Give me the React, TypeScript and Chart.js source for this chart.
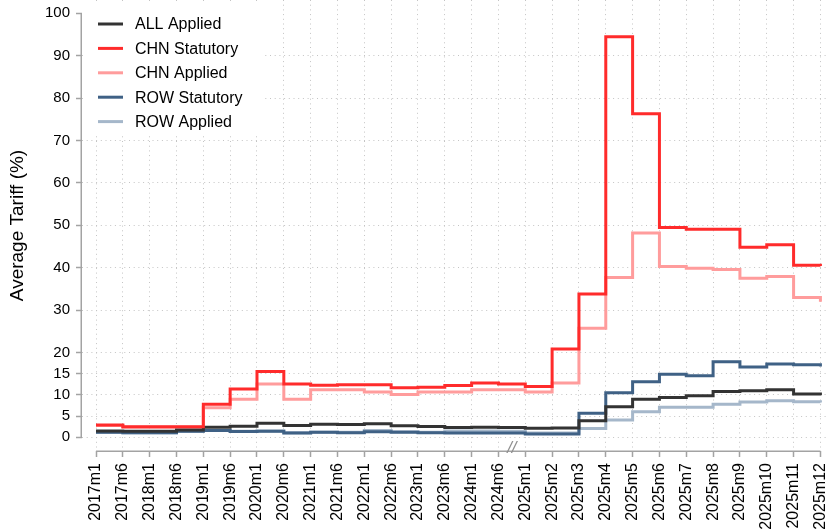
import { useEffect, useRef } from 'react';
import { Chart, registerables } from 'chart.js';

Chart.register(...registerables);

const xLabels = [
  '2017m1', '2017m6', '2018m1', '2018m6', '2019m1', '2019m6', '2020m1', '2020m6',
  '2021m1', '2021m6', '2022m1', '2022m6', '2023m1', '2023m6', '2024m1', '2024m6',
  '2025m1', '2025m2', '2025m3', '2025m4', '2025m5', '2025m6', '2025m7', '2025m8',
  '2025m9', '2025m10', '2025m11', '2025m12',
];

const yTickValues = [0, 5, 10, 15, 20, 30, 40, 50, 60, 70, 80, 90, 100];

const allApplied = [
  1.5, 1.4, 1.4, 1.7, 2.4, 2.6, 3.3, 2.8, 3.1, 3.0, 3.2, 2.7, 2.55, 2.3, 2.4, 2.3,
  2.15, 2.2, 3.9, 7.2, 9.0, 9.4, 9.8, 10.8, 11.0, 11.2, 10.2, 9.9,
];
const chnStatutory = [
  2.9, 2.5, 2.5, 2.5, 7.8, 11.4, 15.5, 12.6, 12.3, 12.4, 12.4, 11.7, 11.8, 12.2, 12.8, 12.6,
  12.0, 20.8, 33.8, 94.5, 76.3, 49.5, 49.1, 49.1, 44.8, 45.4, 40.6, 40.4,
];
const chnApplied = [
  2.8, 2.4, 2.4, 2.4, 7.0, 9.0, 12.6, 9.0, 11.2, 11.2, 10.7, 10.1, 10.7, 10.7, 11.2, 11.2,
  10.7, 12.8, 25.7, 37.7, 48.2, 40.3, 39.9, 39.6, 37.5, 37.9, 33.0, 32.0,
];
const rowStatutory = [
  1.2, 1.1, 1.1, 1.4, 1.6, 1.35, 1.45, 1.0, 1.2, 1.1, 1.3, 1.2, 1.1, 1.0, 1.0, 1.0,
  0.8, 0.8, 5.7, 10.5, 13.1, 14.9, 14.5, 17.8, 16.6, 17.3, 17.1, 16.7,
];
const rowApplied = [
  1.2, 1.1, 1.1, 1.4, 1.6, 1.4, 1.5, 1.1, 1.2, 1.2, 1.6, 1.3, 1.2, 1.5, 1.5, 1.4,
  1.0, 1.0, 2.1, 4.1, 6.0, 7.1, 7.1, 7.8, 8.3, 8.6, 8.4, 8.2,
];

const seriesNames = ['ALL Applied', 'CHN Statutory', 'CHN Applied', 'ROW Statutory', 'ROW Applied'];
const seriesColors = ['#333333', '#ff2b2b', '#ff9c9c', '#3f6185', '#a5b7ca'];
const seriesValues = [allApplied, chnStatutory, chnApplied, rowStatutory, rowApplied];
const seriesDrawOrder = [1, 0, 3, 2, 4];

const FONT = '"Liberation Sans", Arial, Helvetica, sans-serif';
const AXIS_GRAY = '#a3a3a3';
const GRID_GRAY = '#c4c4c4';

const stataPlugin = {
  id: 'stataDecor',
  beforeDatasetsDraw(chart: any) {
    const { ctx, chartArea, scales } = chart;
    const x = scales.x;
    const y = scales.y;
    ctx.save();

    // axis lines spanning only the tick range
    ctx.strokeStyle = AXIS_GRAY;
    ctx.lineWidth = 1.5;
    ctx.beginPath();
    ctx.moveTo(chartArea.left - 0.75, y.getPixelForValue(0));
    ctx.lineTo(chartArea.left - 0.75, y.getPixelForValue(100));
    ctx.moveTo(x.getPixelForValue(0), chartArea.bottom + 0.25);
    ctx.lineTo(x.getPixelForValue(xLabels.length - 1), chartArea.bottom + 0.25);
    ctx.stroke();

    // axis break marker
    ctx.fillStyle = '#8f8f8f';
    ctx.font = `italic 17px ${FONT}`;
    ctx.textAlign = 'center';
    ctx.textBaseline = 'middle';
    ctx.fillText('//', x.getPixelForValue(15.5), chartArea.bottom - 3);

    // legend with white background box
    ctx.fillStyle = '#ffffff';
    ctx.fillRect(chartArea.left + 2, 4, 180, 130);
    ctx.font = `16px ${FONT}`;
    ctx.textAlign = 'left';
    ctx.textBaseline = 'middle';
    chart.data.datasets.forEach((ds: any, i: number) => {
      const rowY = 24 + i * 24.4;
      ctx.strokeStyle = ds.borderColor;
      ctx.lineWidth = 3;
      ctx.beginPath();
      ctx.moveTo(98, rowY);
      ctx.lineTo(123, rowY);
      ctx.stroke();
      ctx.fillStyle = '#000000';
      ctx.fillText(ds.label, 135, rowY + 1);
    });

    ctx.restore();
  },
};

export default function App() {
  const canvasRef = useRef<HTMLCanvasElement | null>(null);

  useEffect(() => {
    if (!canvasRef.current) return;
    const chart = new Chart(canvasRef.current, {
      type: 'line',
      data: {
        datasets: seriesNames.map((name, i) => ({
          label: name,
          data: seriesValues[i].map((v, j) => ({ x: j, y: v })),
          borderColor: seriesColors[i],
          backgroundColor: seriesColors[i],
          borderWidth: 3,
          pointRadius: 0,
          stepped: 'before' as const,
          fill: false,
          borderCapStyle: 'butt' as const,
          borderJoinStyle: 'miter' as const,
          order: seriesDrawOrder[i],
        })),
      },
      options: {
        responsive: true,
        maintainAspectRatio: false,
        animation: false,
        layout: { padding: 0 },
        plugins: {
          legend: { display: false },
          tooltip: { enabled: false },
        },
        scales: {
          x: {
            type: 'linear',
            min: -0.522,
            max: 27.32,
            afterBuildTicks: (scale: any) => {
              scale.ticks = xLabels.map((_, i) => ({ value: i }));
            },
            afterFit: (scale: any) => {
              scale.height = 79;
              scale.paddingLeft = 0;
              scale.paddingRight = 0;
            },
            ticks: {
              autoSkip: false,
              maxRotation: 90,
              minRotation: 90,
              padding: 6,
              color: '#000000',
              font: { family: FONT, size: 16 },
              callback: (value: any) => xLabels[Math.round(Number(value))] ?? '',
            },
            grid: {
              color: GRID_GRAY,
              lineWidth: 1,
              tickLength: 6,
              tickColor: AXIS_GRAY,
              tickWidth: 1.5,
            },
            border: { display: false, dash: [1, 3.7] },
          },
          y: {
            type: 'linear',
            min: -3.23,
            max: 103.14,
            afterBuildTicks: (scale: any) => {
              scale.ticks = yTickValues.map((v) => ({ value: v }));
            },
            afterFit: (scale: any) => {
              scale.width = 82;
              scale.paddingTop = 0;
              scale.paddingBottom = 0;
            },
            ticks: {
              padding: 6,
              color: '#000000',
              font: { family: FONT, size: 15 },
              callback: (value: any) => String(value),
            },
            grid: {
              color: (ctx: any) => (ctx.tick && ctx.tick.value === 100 ? 'rgba(0,0,0,0)' : GRID_GRAY),
              lineWidth: 1,
              tickLength: 6,
              tickColor: AXIS_GRAY,
              tickWidth: 1.5,
            },
            border: { display: false, dash: [1, 3.7] },
            title: {
              display: true,
              text: 'Average Tariff (%)',
              color: '#000000',
              font: { family: FONT, size: 19 },
              padding: { top: 6, bottom: 0 },
            },
          },
        },
      },
      plugins: [stataPlugin],
    });
    return () => chart.destroy();
  }, []);

  return (
    <div style={{ position: 'absolute', left: 0, top: 0, width: 829, height: 530, background: '#ffffff' }}>
      <canvas ref={canvasRef} />
    </div>
  );
}
